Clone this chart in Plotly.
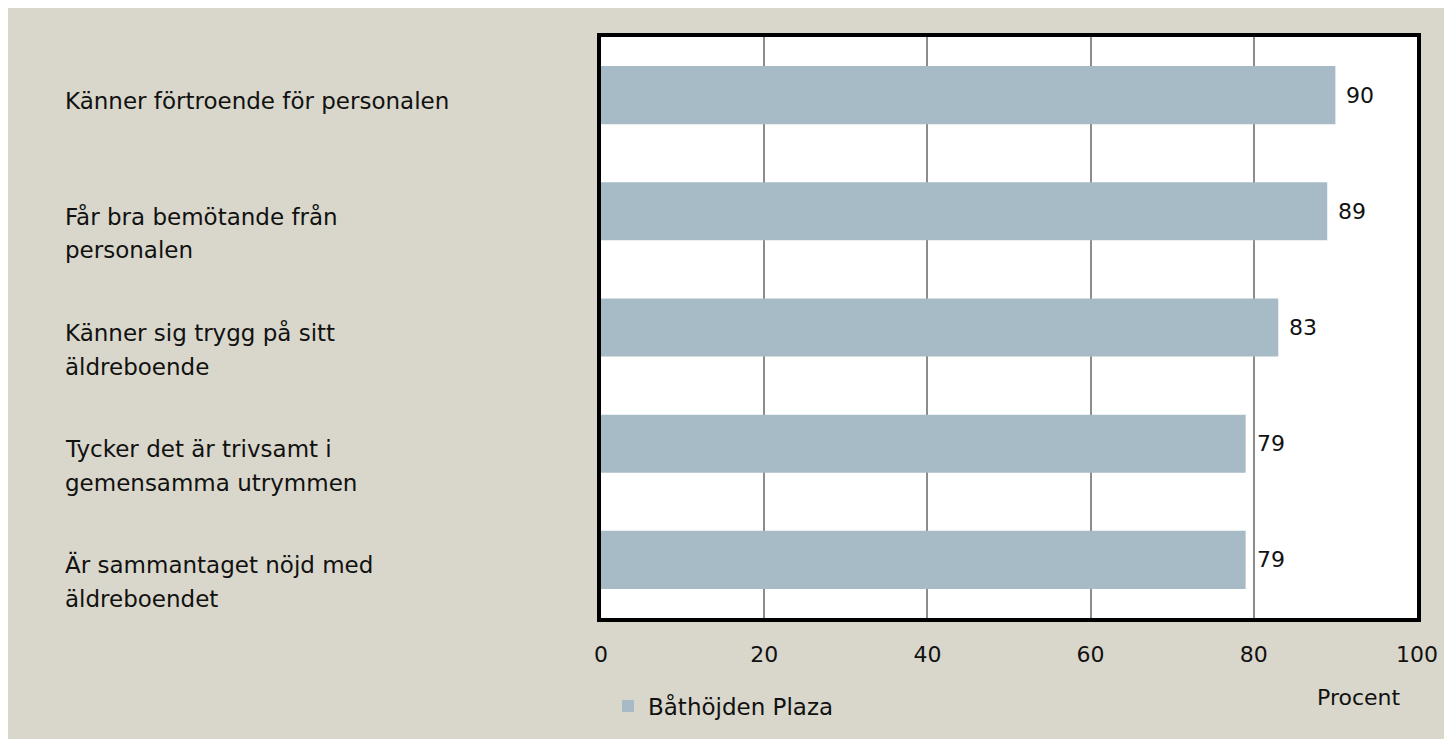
import plotly.graph_objects as go

categories = [
    "Känner förtroende för personalen",
    "Får bra bemötande från<br>personalen",
    "Känner sig trygg på sitt<br>äldreboende",
    "Tycker det är trivsamt i<br>gemensamma utrymmen",
    "Är sammantaget nöjd med<br>äldreboendet",
]
values = [90, 89, 83, 79, 79]
series_name = "Båthöjden Plaza"
x_ticks = [0, 20, 40, 60, 80, 100]
x_title = "Procent"

FONT = "DejaVu Sans"
FS = 23
BAR = "#a7bbc6"
BEIGE = "#d9d7cb"

OFF = 8  # page body margin
W, H = 1452, 739
L, T = 601 - OFF, 37 - OFF
RX, BY = 1417 - OFF, 618 - OFF
R, B = W - RX, H - BY
pw, ph = W - L - R, H - T - B

def px_x(p):
    return (p - OFF - L) / pw

def px_y(p):
    return (H - B - (p - OFF)) / ph

fig = go.Figure()
fig.add_trace(go.Bar(
    x=values, y=list(range(len(categories))), orientation="h",
    marker=dict(color=BAR, line=dict(width=0)),
    width=0.5, name=series_name, showlegend=True,
))

annotations = []
for i, v in enumerate(values):
    annotations.append(dict(x=v, y=i, xref="x", yref="y", text=str(v),
                            showarrow=False, xanchor="left", yanchor="middle",
                            xshift=9, font=dict(family=FONT, size=FS - 1, color="#111")))
for i, c in enumerate(categories):
    lines = c.split("<br>")
    n = len(lines)
    base = 6 if n == 1 else 22
    for j, line in enumerate(lines):
        annotations.append(dict(x=px_x(63), y=i, xref="paper", yref="y", text=line,
                                showarrow=False, xanchor="left", yanchor="middle",
                                yshift=-(base + (j - (n - 1) / 2) * 34),
                                font=dict(family=FONT, size=FS, color="#111")))
annotations.append(dict(x=px_x(1358), y=px_y(697), xref="paper", yref="paper",
                        text=x_title, showarrow=False, xanchor="center", yanchor="middle",
                        font=dict(family=FONT, size=FS - 1, color="#111")))

fig.update_layout(
    width=W, height=H,
    margin=dict(l=L, r=R, t=T, b=B),
    paper_bgcolor=BEIGE, plot_bgcolor="white",
    font=dict(family=FONT, size=FS, color="#111"),
    annotations=annotations,
    legend=dict(orientation="h", x=px_x(608), y=px_y(706), xanchor="left", yanchor="middle",
                bgcolor="rgba(0,0,0,0)", font=dict(family=FONT, size=FS, color="#111")),
    xaxis=dict(range=[0, 100], tickvals=x_ticks, showgrid=True, gridcolor="#8c8c8c",
               gridwidth=1.5, zeroline=False, showline=True, linecolor="black", linewidth=4,
               mirror=True, ticks="", ticklabelstandoff=14,
               tickfont=dict(family=FONT, size=FS - 1, color="#111")),
    yaxis=dict(range=[len(categories) - 0.5, -0.5], showticklabels=False, showgrid=False,
               zeroline=False, showline=True, linecolor="black", linewidth=4, mirror=True,
               ticks=""),
)

fig.write_html("out.html")
